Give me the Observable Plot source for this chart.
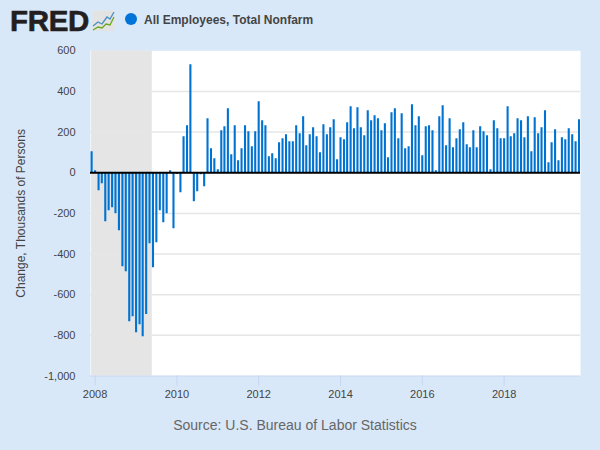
<!DOCTYPE html>
<html>
<head>
<meta charset="utf-8">
<script src="https://cdn.jsdelivr.net/npm/d3@7"></script>
<script src="https://cdn.jsdelivr.net/npm/@observablehq/plot@0.6"></script>
<style>
html,body{margin:0;padding:0;background:#d9e8f9;width:600px;height:450px;overflow:hidden;font-family:"Liberation Sans",Arial,sans-serif}
#head{position:relative;height:39px}
#logo{position:absolute;left:10px;top:3px;font-size:29.5px;font-weight:bold;color:#231f20;line-height:36px;letter-spacing:-.3px;-webkit-text-stroke:.6px #231f20}
#icon{position:absolute;left:92px;top:10px}
#dot{position:absolute;left:125px;top:13px;width:12px;height:12px;border-radius:50%;background:#0073d9}
#title{position:absolute;left:144px;top:12.5px;font-size:12px;font-weight:bold;color:#444;line-height:15px;white-space:nowrap}
#chart svg{display:block}
#source{height:45px;line-height:40px;text-align:center;font-size:14px;color:#666;padding-right:10px}
</style>
</head>
<body>
<div id="head">
  <div id="logo">FRED</div>
  <svg id="icon" width="23" height="22"><rect x=".5" y=".5" width="22" height="20.5" rx="2" fill="#e3e3e3"/><polyline points="1,16 6,12 10,14 15,7 18,9 22,2" fill="none" stroke="#4a8fc4" stroke-width="1.3"/><polyline points="1,20 6,17 10,18 14,14 18,15 22,7" fill="none" stroke="#6ba821" stroke-width="1.3"/></svg>
  <div id="dot"></div>
  <div id="title">All Employees, Total Nonfarm</div>
</div>
<div id="chart"></div>
<div id="source">Source: U.S. Bureau of Labor Statistics</div>
<script>
const firstMonth = "2007-12-01";
const changes = [
  103,10,-88,-54,-241,-187,-172,-202,-285,-462,-487,-733,-708,
  -787,-748,-807,-698,-349,-467,-344,-187,-246,-202,10,-275,
  -8,-98,177,231,531,-143,-93,-10,-69,266,118,69,
  15,207,226,315,89,231,59,118,231,202,128,202,
  349,256,231,79,93,69,148,167,187,152,152,231,
  192,275,133,187,221,177,98,236,187,221,261,64,
  172,162,246,325,216,320,221,182,305,256,280,266,
  207,241,74,295,315,167,290,118,128,334,231,275,
  84,226,231,207,10,275,330,133,266,123,167,211,
  246,138,123,207,123,226,202,182,15,256,216,167,
  167,325,177,192,266,256,172,275,103,270,192,221,
  305,49,148,211,59,172,162,216,187,152,261
];
const yTicks = [-1000,-800,-600,-400,-200,0,200,400,600];
const xTickYears = [2008,2010,2012,2014,2016,2018];
const recessions = [{start:"2007-12-01", end:"2009-05-26"}];
const xDomain = ["2007-11-21","2019-11-14"];
const yDomain = [-1000,600];
const yLabel = "Change, Thousands of Persons";

const start = new Date(firstMonth + "T00:00:00Z");
const rows = changes.map((v,i)=>({date:d3.utcMonth.offset(start,i), v}));
const fmt = d => d3.format(",")(d).replace("\u2212","-");

const plot = Plot.plot({
  width:600, height:366,
  marginLeft:90, marginRight:20, marginTop:11.3, marginBottom:29.5,
  style:{background:"transparent",fontFamily:'"Liberation Sans",Arial,sans-serif',fontSize:"11px"},
  x:{type:"utc",domain:xDomain.map(d=>new Date(d+"T00:00:00Z"))},
  y:{domain:yDomain},
  marks:[
    Plot.frame({fill:"white",stroke:"none"}),
    Plot.rectY(recessions,{x1:d=>new Date(d.start+"T00:00:00Z"),x2:d=>new Date(d.end+"T00:00:00Z"),y1:yDomain[0],y2:yDomain[1],fill:"#e5e5e5"}),
    Plot.gridY(yTicks.filter(d=>d>yDomain[0]&&d<yDomain[1]),{stroke:"#e6e6e6",strokeOpacity:1,strokeWidth:1.5}),
    Plot.ruleX(rows,{x:"date",y1:0,y2:"v",stroke:"#0073d2",strokeWidth:2.1,clip:"frame"}),
    Plot.ruleY([0],{stroke:"black",strokeWidth:2}),
    Plot.ruleY([yDomain[0]],{stroke:"#c5d5f0",strokeWidth:1}),
    Plot.axisY({ticks:yTicks,tickFormat:fmt,tickSize:0,tickPadding:15,color:"#444",label:null,fontSize:11}),
    Plot.axisY({ticks:[],label:yLabel,labelAnchor:"center",labelArrow:"none",labelOffset:74,fontSize:12,color:"#444"}),
    Plot.axisX({ticks:xTickYears.map(y=>new Date(Date.UTC(y,0,1))),tickFormat:d=>String(d.getUTCFullYear()),tickSize:10,tickPadding:4,stroke:"#c5d5f0",color:"#444",label:null,fontSize:11})
  ]
});
document.getElementById("chart").appendChild(plot);
</script>
</body>
</html>
